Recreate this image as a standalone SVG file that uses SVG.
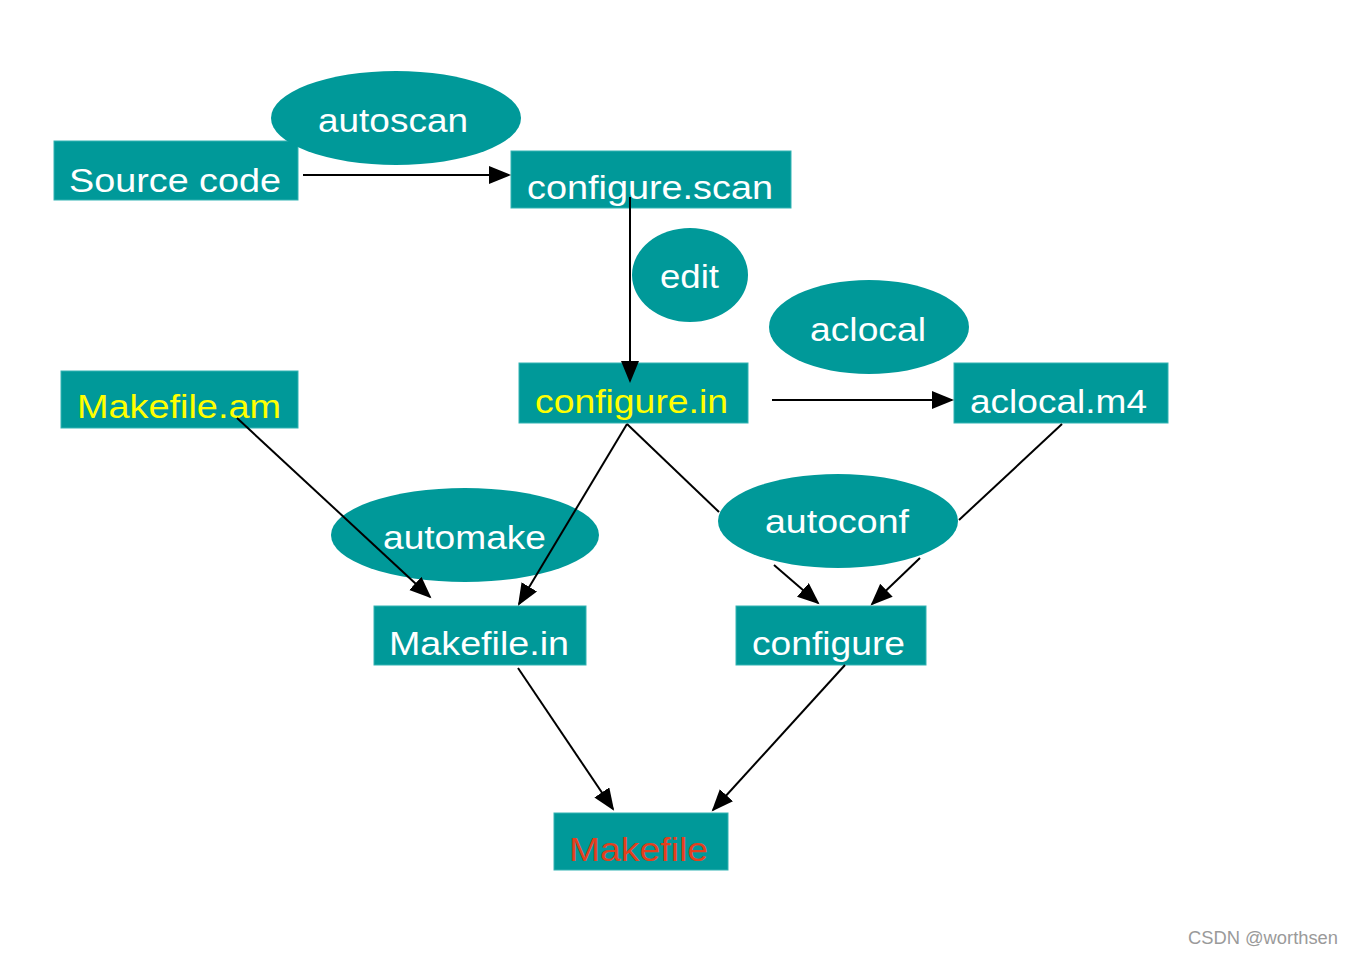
<svg xmlns="http://www.w3.org/2000/svg" width="1353" height="954" viewBox="0 0 1353 954">
<style>
.box{fill:#009999;stroke:#33b3b3;stroke-width:1}
.ell{fill:#009999}
.t{font-family:"Liberation Sans",Arial,sans-serif;font-size:34px;fill:#ffffff}
.y{fill:#ffff00}
.r{fill:#e3401e}
.c{fill:none;stroke:#000;stroke-width:2}
</style>
<defs>
<marker id="ah" markerUnits="userSpaceOnUse" markerWidth="24" markerHeight="20" refX="20" refY="9" orient="auto">
<path d="M0,0 L22,9 L0,18 Z" fill="#000"/>
</marker>
</defs>
<rect width="1353" height="954" fill="#fff"/>
<g id="source-code"><rect class="box" x="54" y="141" width="244" height="59"/><text class="t" x="69" y="192" textLength="212" lengthAdjust="spacingAndGlyphs">Source code</text></g>
<g id="autoscan"><ellipse class="ell" cx="396" cy="118" rx="125" ry="47"/><text class="t" x="318" y="132" textLength="150" lengthAdjust="spacingAndGlyphs">autoscan</text></g>
<g id="configure-scan"><rect class="box" x="511" y="151" width="280" height="57"/><text class="t" x="527" y="199" textLength="246" lengthAdjust="spacingAndGlyphs">configure.scan</text></g>
<g id="edit"><ellipse class="ell" cx="690" cy="275" rx="58" ry="47"/><text class="t" x="660" y="288" textLength="59" lengthAdjust="spacingAndGlyphs">edit</text></g>
<g id="aclocal"><ellipse class="ell" cx="869" cy="327" rx="100" ry="47"/><text class="t" x="810" y="341" textLength="116" lengthAdjust="spacingAndGlyphs">aclocal</text></g>
<g id="configure-in"><rect class="box" x="519" y="363" width="229" height="60"/><text class="t y" x="535" y="413" textLength="193" lengthAdjust="spacingAndGlyphs">configure.in</text></g>
<g id="aclocal-m4"><rect class="box" x="954" y="363" width="214" height="60"/><text class="t" x="970" y="413" textLength="177" lengthAdjust="spacingAndGlyphs">aclocal.m4</text></g>
<g id="makefile-am"><rect class="box" x="61" y="371" width="237" height="57"/><text class="t y" x="77" y="418" textLength="204" lengthAdjust="spacingAndGlyphs">Makefile.am</text></g>
<g id="automake"><ellipse class="ell" cx="465" cy="535" rx="134" ry="47"/><text class="t" x="383" y="549" textLength="163" lengthAdjust="spacingAndGlyphs">automake</text></g>
<g id="autoconf"><ellipse class="ell" cx="838" cy="521" rx="120" ry="47"/><text class="t" x="765" y="533" textLength="144" lengthAdjust="spacingAndGlyphs">autoconf</text></g>
<g id="makefile-in"><rect class="box" x="374" y="606" width="212" height="59"/><text class="t" x="389" y="655" textLength="180" lengthAdjust="spacingAndGlyphs">Makefile.in</text></g>
<g id="configure"><rect class="box" x="736" y="606" width="190" height="59"/><text class="t" x="752" y="655" textLength="153" lengthAdjust="spacingAndGlyphs">configure</text></g>
<g id="makefile"><rect class="box" x="554" y="813" width="174" height="57"/><text class="t r" x="569" y="861" textLength="139" lengthAdjust="spacingAndGlyphs">Makefile</text></g>
<g id="connectors">
<line class="c" x1="303" y1="175" x2="509" y2="175" marker-end="url(#ah)"/>
<line class="c" x1="630" y1="197" x2="630" y2="381" marker-end="url(#ah)"/>
<line class="c" x1="772" y1="400" x2="952" y2="400" marker-end="url(#ah)"/>
<line class="c" x1="237" y1="418" x2="430" y2="597" marker-end="url(#ah)"/>
<line class="c" x1="627" y1="424" x2="519" y2="604" marker-end="url(#ah)"/>
<path class="c" d="M627,424 L719,512"/>
<line class="c" x1="774" y1="565" x2="818" y2="603" marker-end="url(#ah)"/>
<path class="c" d="M1062,424 L959,520"/>
<line class="c" x1="920" y1="558" x2="872" y2="604" marker-end="url(#ah)"/>
<line class="c" x1="518" y1="668" x2="613" y2="809" marker-end="url(#ah)"/>
<line class="c" x1="845" y1="665" x2="713" y2="810" marker-end="url(#ah)"/>
</g>
<text x="1188" y="944" font-family="Liberation Sans,Arial,sans-serif" font-size="18" fill="#9a9a9a" textLength="150" lengthAdjust="spacingAndGlyphs">CSDN @worthsen</text>
</svg>
